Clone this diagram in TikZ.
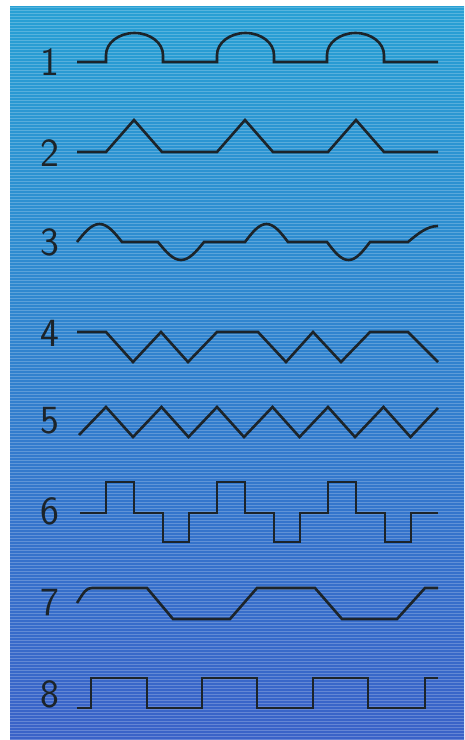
\documentclass[tikz,border=0pt]{standalone}
\usepackage{tikz}
\definecolor{ink}{RGB}{28,36,42}
\definecolor{seatop}{RGB}{40,160,212}
\definecolor{seamid}{RGB}{46,138,212}
\definecolor{seabot}{RGB}{58,98,200}
\newcommand{\digitFont}{\fontsize{40}{40}\selectfont\sffamily}

\begin{document}
\begin{tikzpicture}[x=1pt,y=-1pt,
  wave/.style={draw=ink,line width=2.6pt,line join=miter},
  digit/.style={text=ink,font=\digitFont,inner sep=0pt}]
 \useasboundingbox (0,0) rectangle (464,740);
 \fill[white] (0,0) rectangle (464,740);
 \shade[top color=seatop,middle color=seamid,bottom color=seabot] (10,6) rectangle (464,740);
 \foreach \y in {7,10,...,739}
   \draw[white,opacity=0.22,line width=0.9pt] (10,\y) -- (464,\y);
 \foreach \n/\y in {1/62,2/153,3/242,4/333,5/421,6/511,7/603,8/694}
   \node[digit] (d\n) at (50,\y) {\n};
 \path[wave] (77,62) foreach \a in {106,217,327} { -- (\a,62) -- (\a,55)
   arc[start angle=180,end angle=360,x radius=28.5,y radius=22] -- ++(0,7) } -- (438,62);
 \path[wave] (77,152) foreach \a in {106,217,328} { -- (\a,152) -- (\a+28,120) -- (\a+56,152) } -- (438,152);
 \path[wave] (77,242) sin (99.5,224) cos (122,242) -- (158,242) sin (181,260) cos (204,242)
   -- (245,242) sin (266.5,224) cos (288,242) -- (327,242) sin (348.5,260) cos (370,242)
   -- (408,242) sin (438,226);
 \path[wave] (77,332) -- (106,332) -- (133,362) -- (161,332) -- (188,362) -- (217,332) -- (258,332)
   -- (286,362) -- (313,332) -- (341,362) -- (370,332) -- (408,332) -- (438,362);
 \path[wave] (79,435) foreach \i in {0,...,5} { -- (106+55.5*\i,407) -- (133+55.5*\i,437) } -- (438,408);
 \path[wave] (80,513) foreach \a in {106,217,328} { -- (\a,513) -- (\a,482) -- (\a+28,482) -- (\a+28,513)
   -- (\a+57,513) -- (\a+57,542) -- (\a+83,542) -- (\a+83,513) } -- (438,513);
 \path[wave] (77,603) .. controls (84,592) and (86,588) .. (92,588) -- (147,588) -- (173,619) -- (230,619)
   -- (257,588) -- (315,588) -- (342,619) -- (397,619) -- (425,588) -- (438,588);
 \path[wave] (77,708) -- (91,708) -- (91,678) -- (147,678) -- (147,708) -- (202,708) -- (202,678)
   -- (257,678) -- (257,708) -- (313,708) -- (313,678) -- (368,678) -- (368,708) -- (425,708)
   -- (425,678) -- (438,678);
\end{tikzpicture}
\end{document}
